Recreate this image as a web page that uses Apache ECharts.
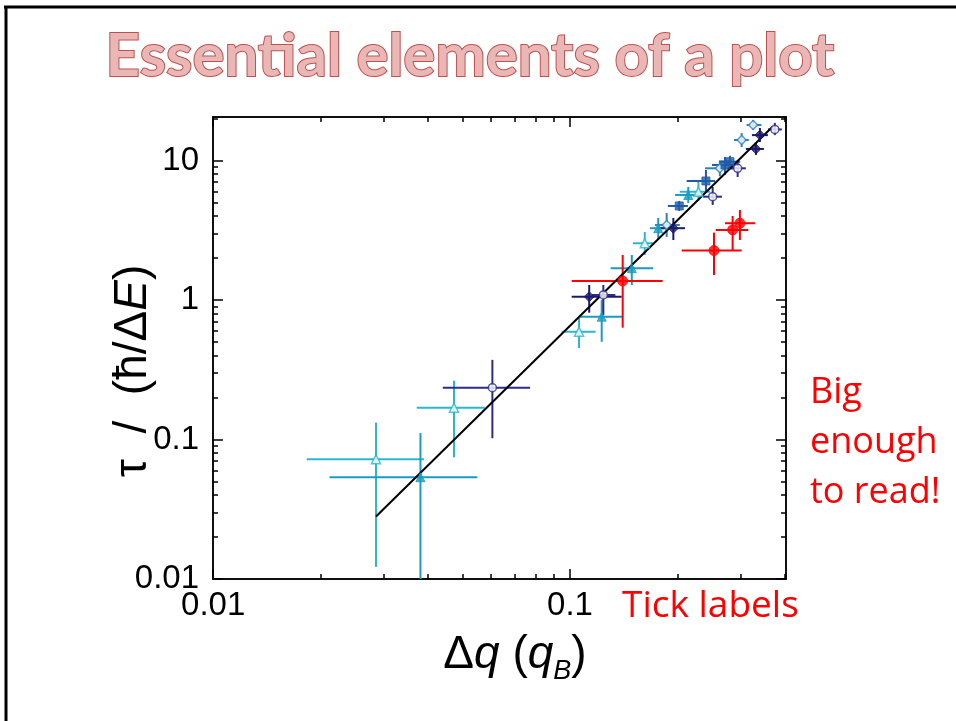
<!DOCTYPE html>
<html>
<head>
<meta charset="utf-8">
<title>Essential elements of a plot</title>
<script src="https://cdn.jsdelivr.net/npm/echarts@6/dist/echarts.min.js"></script>
<style>
  html, body { margin: 0; padding: 0; background: #fff; }
  #chart { width: 956px; height: 721px; }
</style>
</head>
<body>
<div id="chart"></div>
<script>
// axis ranges and tick positions
const xMin = 0.00999, xMax = 0.403
const yMin = 0.00999, yMax = 20.5
const xMajor = [0.01, 0.1]
const xMinor = [0.02, 0.03, 0.04, 0.05, 0.06, 0.07, 0.08, 0.09, 0.2, 0.3, 0.4]
const yMajor = [0.01, 0.1, 1, 10]
const yMinor = [0.02, 0.03, 0.04, 0.05, 0.06, 0.07, 0.08, 0.09,
  0.2, 0.3, 0.4, 0.5, 0.6, 0.7, 0.8, 0.9, 2, 3, 4, 5, 6, 7, 8, 9, 20]

// points: [x, y, xLow, xHigh, yLow, yHigh]
const cyanOpen = [
  [0.0286, 0.0721, 0.0183, 0.039, 0.0122, 0.132],
  [0.0473, 0.169, 0.0372, 0.0577, 0.0745, 0.264],
  [0.106, 0.593, 0.0948, 0.118, 0.453, 0.743],
  [0.162, 2.55, 0.150, 0.173, 2.10, 3.07],
  [0.229, 5.97, 0.203, 0.247, 5.13, 7.01]
]
const tealFilled = [
  [0.0381, 0.0536, 0.0212, 0.055, 0.005, 0.111],
  [0.1227, 0.759, 0.1066, 0.1405, 0.502, 1.0],
  [0.149, 1.69, 0.130, 0.171, 1.28, 2.10],
  [0.1767, 3.27, 0.1676, 0.1968, 2.69, 3.87],
  [0.2145, 5.66, 0.197, 0.231, 4.96, 6.46]
]
const steelOpen = [
  [0.1866, 3.45, 0.173, 0.2032, 2.83, 4.2],
  [0.263, 8.79, 0.239, 0.290, 7.7, 10.0],
  [0.3027, 14.03, 0.288, 0.317, 12.5, 15.7],
  [0.326, 17.97, 0.3126, 0.344, 16.6, 19.5]
]
const blueSquare = [
  [0.2024, 4.72, 0.188, 0.214, 4.35, 5.13],
  [0.2404, 7.13, 0.2123, 0.255, 5.94, 8.55],
  [0.2718, 9.29, 0.250, 0.2993, 7.87, 10.6],
  [0.2807, 9.8, 0.262, 0.30, 9.0, 10.8]
]
const navyOpen = [
  [0.0606, 0.235, 0.044, 0.0773, 0.102, 0.372],
  [0.124, 1.086, 0.115, 0.134, 0.78, 1.28],
  [0.2511, 5.5, 0.2358, 0.2666, 4.80, 6.46],
  [0.295, 8.79, 0.277, 0.311, 7.62, 10.0],
  [0.375, 16.7, 0.3586, 0.3924, 15.2, 18.6]
]
const navyFilled = [
  [0.1132, 1.056, 0.1011, 0.1396, 0.811, 1.28],
  [0.1948, 3.27, 0.1787, 0.210, 2.69, 3.87],
  [0.332, 12.1, 0.311, 0.3495, 10.95, 13.35],
  [0.3406, 15.2, 0.3235, 0.3586, 13.57, 17.1]
]
const redPts = [
  [0.1405, 1.368, 0.1011, 0.1818, 0.633, 2.10],
  [0.2532, 2.26, 0.2056, 0.3027, 1.51, 3.04],
  [0.2856, 3.18, 0.256, 0.316, 2.28, 4.0],
  [0.2993, 3.55, 0.2718, 0.33, 2.69, 4.42]
]
const fitLine = [[0.0286, 0.028], [0.37, 17.5]]

const chart = echarts.init(document.getElementById('chart'))

const tickFont = 'Liberation Sans'

// one log axis; majors and minors are two overlaid copies
const logAxis = (dim, position, ticks, len, labels) => ({
  type: 'log',
  logBase: 10,
  min: dim === 'x' ? xMin : yMin,
  max: dim === 'x' ? xMax : yMax,
  position,
  axisLine: {show: true, onZero: false, lineStyle: {color: '#000', width: 1.5}},
  axisTick: {show: true, inside: true, length: len, customValues: ticks, lineStyle: {color: '#000', width: 1.5}},
  axisLabel: labels ? {
    show: true,
    customValues: labels,
    color: '#000',
    fontFamily: tickFont,
    fontSize: 33,
    margin: dim === 'x' ? 10 : 14,
    formatter: v => String(+Number(v).toPrecision(3))
  } : {show: false},
  splitLine: {show: false},
  minorTick: {show: false}
})

const errorBars = (pts, color) => ({
  type: 'custom',
  clip: true,
  silent: true,
  data: pts,
  encode: {x: 0, y: 1},
  renderItem: (params, api) => {
    const x = api.value(0), y = api.value(1)
    const l = api.coord([api.value(2), y])
    const r = api.coord([api.value(3), y])
    const t = api.coord([x, api.value(5)])
    const b = api.coord([x, api.value(4)])
    return {
      type: 'group',
      children: [
        {type: 'line', shape: {x1: l[0], y1: l[1], x2: r[0], y2: r[1]}, style: {stroke: color, lineWidth: 2}},
        {type: 'line', shape: {x1: t[0], y1: t[1], x2: b[0], y2: b[1]}, style: {stroke: color, lineWidth: 2}}
      ]
    }
  }
})

const markers = (pts, color, symbol, open, size) => ({
  type: 'scatter',
  silent: true,
  symbol,
  symbolSize: size,
  data: pts.map(p => [p[0], p[1]]),
  itemStyle: open
    ? {color: '#fff', borderColor: color, borderWidth: 1.5}
    : {color, borderColor: color, borderWidth: 1},
  z: 3
})

const groups = [
  [cyanOpen, '#2bb7cf', 'triangle', true, 9],
  [tealFilled, '#1a9bc2', 'triangle', false, 9],
  [steelOpen, '#2e80ba', 'diamond', true, 9],
  [blueSquare, '#1f5ba6', 'rect', false, 8],
  [navyOpen, '#2b2d88', 'circle', true, 8],
  [navyFilled, '#1c1a6e', 'diamond', false, 10],
  [redPts, '#ff0000', 'circle', false, 10]
]

const series = []
groups.forEach(g => series.push(errorBars(g[0], g[1])))
series.push({
  type: 'line',
  data: fitLine,
  symbol: 'none',
  silent: true,
  lineStyle: {color: '#000', width: 2},
  z: 2
})
groups.forEach(g => series.push(markers(g[0], g[1], g[2], g[3], g[4])))

chart.setOption({
  backgroundColor: '#fff',
  animation: false,
  grid: {left: 213, top: 117, right: 170, bottom: 142, outerBoundsMode: 'none'},
  xAxis: [
    logAxis('x', 'bottom', xMajor, 10, xMajor),
    logAxis('x', 'bottom', xMinor, 5),
    logAxis('x', 'top', xMajor, 10),
    logAxis('x', 'top', xMinor, 5)
  ],
  yAxis: [
    logAxis('y', 'left', yMajor, 10, yMajor),
    logAxis('y', 'left', yMinor, 5),
    logAxis('y', 'right', yMajor, 10),
    logAxis('y', 'right', yMinor, 5)
  ],
  series,
  graphic: [
    // slide frame
    {type: 'line', shape: {x1: 4, y1: 7, x2: 956, y2: 7}, style: {stroke: '#000', lineWidth: 3}},
    {type: 'line', shape: {x1: 6, y1: 6, x2: 6, y2: 721}, style: {stroke: '#000', lineWidth: 3}},
    {
      type: 'text', x: 470, y: 57,
      style: {
        text: 'Essential elements of a plot',
        font: 'bold 60px Lato',
        fill: '#e8b7b6', stroke: '#c0504d', lineWidth: 2,
        align: 'center', verticalAlign: 'middle'
      }
    },
    {
      type: 'text', x: 133, y: 371, rotation: Math.PI / 2,
      style: {
        text: '{n|τ  /  (ħ/Δ}{i|E}{n|)}',
        align: 'center', verticalAlign: 'middle',
        rich: {
          n: {font: '46px Liberation Sans', fill: '#000'},
          i: {font: 'italic 46px Liberation Sans', fill: '#000'}
        }
      }
    },
    {
      type: 'text', x: 515, y: 655,
      style: {
        text: '{n|Δ}{i|q}{n| (}{i|q}{s|B}{n|)}',
        align: 'center', verticalAlign: 'middle',
        rich: {
          n: {font: '46px Liberation Sans', fill: '#000'},
          i: {font: 'italic 46px Liberation Sans', fill: '#000'},
          s: {font: 'italic 27px Liberation Sans', fill: '#000', padding: [32, 0, 0, 0]}
        }
      }
    },
    {type: 'text', x: 810, y: 393, style: {text: 'Big', font: '36px Open Sans', fill: '#ff0000', verticalAlign: 'middle'}},
    {type: 'text', x: 810, y: 443, style: {text: 'enough', font: '36px Open Sans', fill: '#ff0000', verticalAlign: 'middle'}},
    {type: 'text', x: 810, y: 493, style: {text: 'to read!', font: '36px Open Sans', fill: '#ff0000', verticalAlign: 'middle'}},
    {type: 'text', x: 622, y: 606, style: {text: 'Tick labels', font: '37px Open Sans', fill: '#ff0000', verticalAlign: 'middle'}}
  ]
})
</script>
</body>
</html>
